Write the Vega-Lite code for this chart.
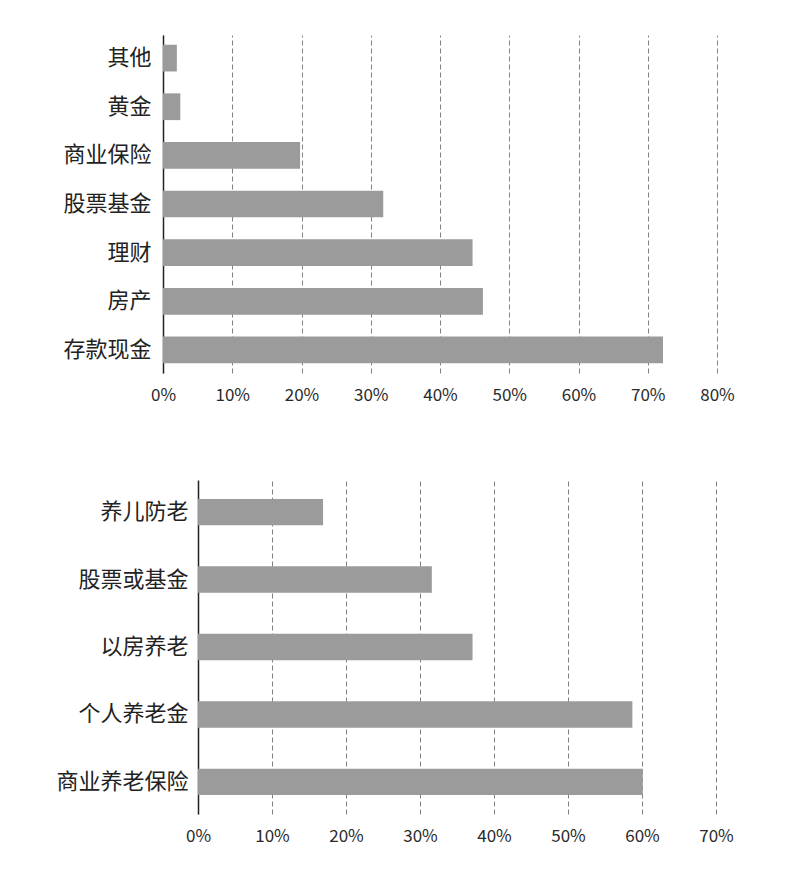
{
  "$schema": "https://vega.github.io/schema/vega-lite/v6.json",
  "background": "white",
  "padding": {"left": 5, "top": 35, "right": 5, "bottom": 5},
  "spacing": 77,
  "bounds": "full",
  "config": {
    "view": {"stroke": null},
    "font": "Noto Sans CJK SC",
    "axisX": {
      "domain": false,
      "ticks": false,
      "grid": true,
      "gridColor": "#808080",
      "gridDash": [5, 3],
      "gridWidth": 1,
      "labelFontSize": 17,
      "labelColor": "#2a2a2a",
      "labelPadding": 14,
      "labelFlush": false,
      "title": null
    },
    "axisY": {
      "domain": true,
      "domainColor": "#222222",
      "domainWidth": 1.5,
      "ticks": false,
      "grid": false,
      "labelFontSize": 22,
      "labelColor": "#222222",
      "title": null
    }
  },
  "vconcat": [
    {
      "width": 554,
      "height": 338,
      "data": {
        "values": [
          {"item": "其他", "pct": 2.0},
          {"item": "黄金", "pct": 2.5},
          {"item": "商业保险", "pct": 19.8},
          {"item": "股票基金", "pct": 31.8},
          {"item": "理财", "pct": 44.7},
          {"item": "房产", "pct": 46.2},
          {"item": "存款现金", "pct": 72.2}
        ]
      },
      "mark": {"type": "bar", "color": "#9b9b9b"},
      "encoding": {
        "y": {
          "field": "item",
          "type": "nominal",
          "sort": ["其他", "黄金", "商业保险", "股票基金", "理财", "房产", "存款现金"],
          "scale": {"paddingInner": 0.45, "paddingOuter": 0.2},
          "axis": {"labelPadding": 12, "minExtent": 158, "maxExtent": 158}
        },
        "x": {
          "field": "pct",
          "type": "quantitative",
          "scale": {"domain": [0, 80], "nice": false},
          "axis": {
            "values": [0, 10, 20, 30, 40, 50, 60, 70, 80],
            "labelExpr": "datum.value + '%'",
            "minExtent": 30,
            "maxExtent": 30
          }
        }
      }
    },
    {
      "width": 553,
      "height": 334,
      "data": {
        "values": [
          {"item": "养儿防老", "pct": 16.9},
          {"item": "股票或基金", "pct": 31.6},
          {"item": "以房养老", "pct": 37.1},
          {"item": "个人养老金", "pct": 58.7},
          {"item": "商业养老保险", "pct": 60.1}
        ]
      },
      "mark": {"type": "bar", "color": "#9b9b9b"},
      "encoding": {
        "y": {
          "field": "item",
          "type": "nominal",
          "sort": ["养儿防老", "股票或基金", "以房养老", "个人养老金", "商业养老保险"],
          "scale": {"paddingInner": 0.61, "paddingOuter": 0.28},
          "axis": {"labelPadding": 10, "offset": -35}
        },
        "x": {
          "field": "pct",
          "type": "quantitative",
          "scale": {"domain": [0, 70], "nice": false, "range": [35, 553]},
          "axis": {
            "values": [0, 10, 20, 30, 40, 50, 60, 70],
            "labelExpr": "datum.value + '%'"
          }
        }
      }
    }
  ]
}
